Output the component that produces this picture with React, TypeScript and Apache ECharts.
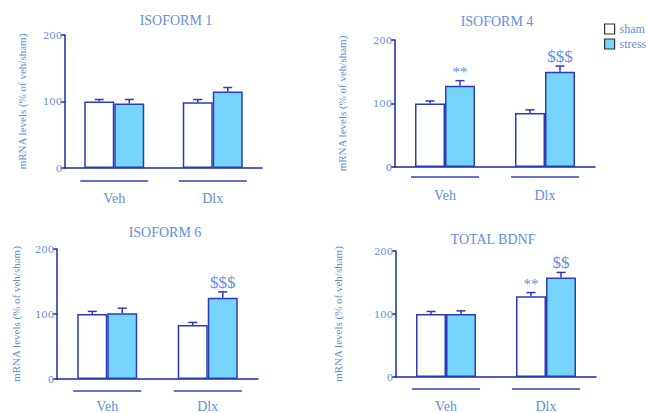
import React, { useEffect, useRef } from "react";
import * as echarts from "echarts";

// ---- Data ----
const groups = ["Veh", "Dlx"];
const titles = ["ISOFORM 1", "ISOFORM 4", "ISOFORM 6", "TOTAL BDNF"];
const yTicks = [0, 100, 200];
const yName = "mRNA levels (% of veh/sham)";

const iso1Sham = [100, 99];
const iso1ShamErr = [3, 4];
const iso1Stress = [97, 115];
const iso1StressErr = [6, 6];
const iso1ShamMarks = ["", ""];
const iso1StressMarks = ["", ""];

const iso4Sham = [100, 85];
const iso4ShamErr = [4, 5];
const iso4Stress = [128, 150];
const iso4StressErr = [8, 9];
const iso4ShamMarks = ["", ""];
const iso4StressMarks = ["**", "$$$"];

const iso6Sham = [100, 83];
const iso6ShamErr = [4, 4];
const iso6Stress = [101, 125];
const iso6StressErr = [8, 9];
const iso6ShamMarks = ["", ""];
const iso6StressMarks = ["", "$$$"];

const totSham = [100, 128];
const totShamErr = [4, 6];
const totStress = [100, 158];
const totStressErr = [5, 8];
const totShamMarks = ["", "**"];
const totStressMarks = ["", "$$"];

const panels = [
  { sham: iso1Sham, shamErr: iso1ShamErr, stress: iso1Stress, stressErr: iso1StressErr, shamMarks: iso1ShamMarks, stressMarks: iso1StressMarks },
  { sham: iso4Sham, shamErr: iso4ShamErr, stress: iso4Stress, stressErr: iso4StressErr, shamMarks: iso4ShamMarks, stressMarks: iso4StressMarks },
  { sham: iso6Sham, shamErr: iso6ShamErr, stress: iso6Stress, stressErr: iso6StressErr, shamMarks: iso6ShamMarks, stressMarks: iso6StressMarks },
  { sham: totSham, shamErr: totShamErr, stress: totStress, stressErr: totStressErr, shamMarks: totShamMarks, stressMarks: totStressMarks },
];

// ---- Layout / style ----
const gridBoxes = [
  { left: 65, top: 35, width: 197, height: 133 },
  { left: 395, top: 40, width: 200, height: 127 },
  { left: 57, top: 249, width: 201, height: 133 },
  { left: 396, top: 251, width: 200, height: 128 },
];
const nameGaps = [38, 48, 36, 53];
const labelMargins = [23, 21, 20, 22];
const underlineOffsets = [13, 10, 12, 12];
const titlePos = [
  { x: 171, y: 8 },
  { x: 492, y: 9 },
  { x: 160, y: 220 },
  { x: 488, y: 227 },
];

const AXIS = "#1c2aa6";
const BORDER = "#2a3cbc";
const STRESS = "#76d4fd";
const TEXT = "#5f8fe0";
const SERIF = "Liberation Serif";
const BAR_W = 30;

export default function App() {
  const ref = useRef<HTMLDivElement>(null);

  useEffect(() => {
    if (!ref.current) return;
    const chart = echarts.init(ref.current, null, { renderer: "svg" });

    const grid: any[] = [];
    const xAxis: any[] = [];
    const yAxis: any[] = [];
    const series: any[] = [];
    const title: any[] = [];

    const errSeries = (gi: number, vals: number[], errs: number[], marks: string[], offset: number) => ({
      type: "custom",
      xAxisIndex: gi,
      yAxisIndex: gi,
      silent: true,
      z: 5,
      clip: false,
      data: vals.map((v, i) => [i, v, errs[i]]),
      encode: { x: 0, y: 1 },
      renderItem: (params: any, api: any) => {
        const idx = api.value(0);
        const v = api.value(1);
        const e = api.value(2);
        const top = api.coord([idx, v]);
        const cap = api.coord([idx, v + e]);
        const x = top[0] + offset;
        const mark = marks[params.dataIndex];
        const children: any[] = [
          { type: "line", shape: { x1: x, y1: top[1], x2: x, y2: cap[1] }, style: { stroke: BORDER, lineWidth: 1.5 } },
          { type: "line", shape: { x1: x - 4.5, y1: cap[1], x2: x + 4.5, y2: cap[1] }, style: { stroke: BORDER, lineWidth: 1.5 } },
        ];
        if (mark) {
          const isStar = mark.indexOf("*") >= 0;
          children.push({
            type: "text",
            style: {
              text: mark,
              x: x,
              y: cap[1] + (isStar ? -1 : -1),
              align: "center",
              verticalAlign: "bottom",
              fill: TEXT,
              font: `${isStar ? 15 : 17}px "${SERIF}"`,
            },
          });
        }
        return { type: "group", children };
      },
    });

    panels.forEach((p, gi) => {
      grid.push({ ...gridBoxes[gi], containLabel: false });
      title.push({
        text: titles[gi],
        left: titlePos[gi].x,
        top: titlePos[gi].y,
        textAlign: "center",
        textStyle: { color: TEXT, fontFamily: SERIF, fontSize: 14, fontWeight: "normal" },
      });
      xAxis.push({
        type: "category",
        gridIndex: gi,
        data: groups,
        axisLine: { show: true, lineStyle: { color: AXIS, width: 1.5 } },
        axisTick: { show: false },
        axisLabel: { color: TEXT, fontFamily: SERIF, fontSize: 14, margin: labelMargins[gi] },
        splitLine: { show: false },
      });
      yAxis.push({
        type: "value",
        gridIndex: gi,
        min: yTicks[0],
        max: yTicks[yTicks.length - 1],
        interval: yTicks[1] - yTicks[0],
        name: yName,
        nameLocation: "middle",
        nameGap: nameGaps[gi],
        nameRotate: 90,
        nameTextStyle: { color: TEXT, fontFamily: SERIF, fontSize: 11 },
        axisLine: { show: true, lineStyle: { color: AXIS, width: 1.5 } },
        axisTick: { show: true, length: 4, lineStyle: { color: AXIS, width: 1.5 } },
        axisLabel: { color: TEXT, fontFamily: "DejaVu Serif", fontSize: 10, margin: 3 },
        splitLine: { show: false },
      });
      series.push({
        name: "sham",
        type: "bar",
        xAxisIndex: gi,
        yAxisIndex: gi,
        data: p.sham,
        barWidth: BAR_W,
        barGap: "0%",
        itemStyle: { color: "#ffffff", borderColor: BORDER, borderWidth: 1.5 },
      });
      series.push({
        name: "stress",
        type: "bar",
        xAxisIndex: gi,
        yAxisIndex: gi,
        data: p.stress,
        barWidth: BAR_W,
        barGap: "0%",
        itemStyle: { color: STRESS, borderColor: BORDER, borderWidth: 1.5 },
      });
      series.push(errSeries(gi, p.sham, p.shamErr, p.shamMarks, -BAR_W / 2));
      series.push(errSeries(gi, p.stress, p.stressErr, p.stressMarks, BAR_W / 2));
      const uo = underlineOffsets[gi];
      series.push({
        type: "custom",
        xAxisIndex: gi,
        yAxisIndex: gi,
        silent: true,
        clip: false,
        data: groups.map((_, i) => [i, 0]),
        encode: { x: 0, y: 1 },
        renderItem: (params: any, api: any) => {
          const c = api.coord([api.value(0), 0]);
          return {
            type: "line",
            shape: { x1: c[0] - 34, y1: c[1] + uo, x2: c[0] + 34, y2: c[1] + uo },
            style: { stroke: "#3444b4", lineWidth: 1.5 },
          };
        },
      });
    });

    chart.setOption({
      animation: false,
      backgroundColor: "#ffffff",
      title,
      grid,
      xAxis,
      yAxis,
      series,
      legend: {
        data: ["sham", "stress"],
        orient: "vertical",
        left: 599,
        top: 18,
        itemWidth: 10,
        itemHeight: 10,
        itemGap: 3,
        icon: "rect",
        itemStyle: { borderColor: "#333333", borderWidth: 1.2 },
        textStyle: { color: TEXT, fontFamily: SERIF, fontSize: 12 },
        selectedMode: false,
      },
    });

    return () => chart.dispose();
  }, []);

  return (
    <div
      ref={ref}
      style={{ position: "fixed", left: 0, top: 0, width: 647, height: 413, background: "#fff" }}
    />
  );
}
